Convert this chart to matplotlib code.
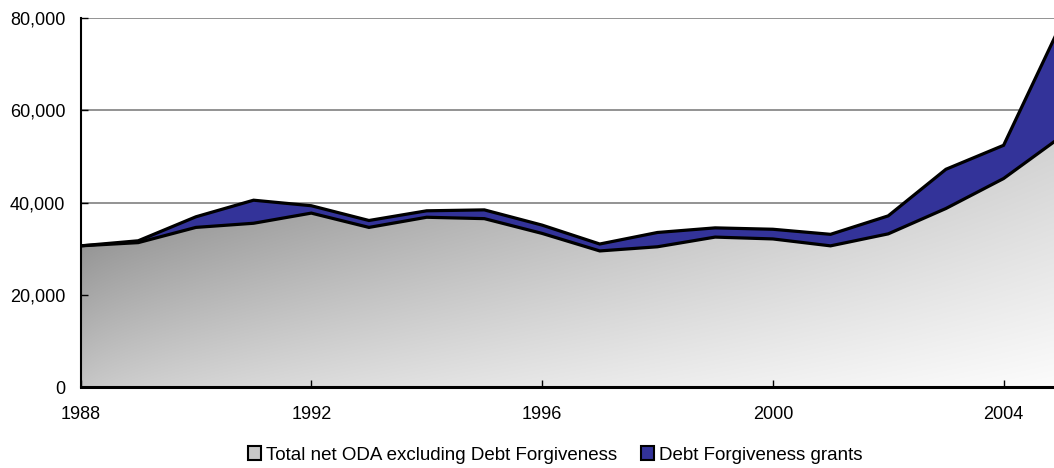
import numpy as np
import matplotlib
matplotlib.use("Agg")
import matplotlib.pyplot as plt
from matplotlib.patches import Patch
from matplotlib.ticker import FuncFormatter

years = [1988, 1989, 1990, 1991, 1992, 1993, 1994, 1995, 1996,
         1997, 1998, 1999, 2000, 2001, 2002, 2003, 2004, 2005]
oda_excl_df = [30600, 31300, 34600, 35500, 37700, 34600, 36800, 36500, 33300,
               29500, 30400, 32500, 32100, 30600, 33200, 38700, 45200, 54300]
debt_forgiveness = [0, 400, 2300, 5000, 1600, 1500, 1400, 1900, 1800,
                    1500, 3100, 2000, 2100, 2500, 3900, 8500, 7200, 24500]
x_ticks = [1988, 1992, 1996, 2000, 2004]
y_ticks = [0, 20000, 40000, 60000, 80000]
legend_labels = ["Total net ODA excluding Debt Forgiveness", "Debt Forgiveness grants"]

x = np.array(years, dtype=float)
lower = np.array(oda_excl_df, dtype=float)
upper = lower + np.array(debt_forgiveness, dtype=float)

W, H = 1054, 468
fig = plt.figure(figsize=(W / 100, H / 100), dpi=100)
plt.rcParams['font.family'] = ['Liberation Sans', 'DejaVu Sans']

left_px, right_px, top_px, bot_px = 80.5, 1054, 18, 387
ax = fig.add_axes([left_px / W, (H - bot_px) / H, (right_px - left_px) / W, (bot_px - top_px) / H])
px_per_year = (1003.6 - 80.5) / 16
ax.set_xlim(1988, 1988 + (right_px - left_px) / px_per_year)
ax.set_ylim(0, 80000)

# gridlines
for yv in y_ticks[1:]:
    ax.axhline(yv, color='#808080', lw=1.2, zorder=0.5)

# gradient fill for base series
base = ax.fill_between(x, 0, lower, facecolor='none', edgecolor='none', zorder=1)
nu, nv = 400, 200
u = np.linspace(0, 1, nu)[None, :]
v = np.linspace(0, 1, nv)[:, None]  # 0 at top
top_row = 111 + 99 * u ** 0.8
bot_row = 196 + 56 * u ** 0.6
val = (top_row + (bot_row - top_row) * v) / 255.0
val = np.clip(val, 0, 1)
img = np.dstack([val, val, val])
im = ax.imshow(img, extent=[x.min(), x.max(), 0, lower.max()], origin='upper',
               aspect='auto', interpolation='bilinear', zorder=1)
im.set_clip_path(base.get_paths()[0], transform=ax.transData)

# debt forgiveness band
ax.fill_between(x, lower, upper, facecolor='#333399', edgecolor='none', zorder=2)
ax.plot(x, upper, color='black', lw=2.3, zorder=3, solid_joinstyle='miter')
ax.plot(x, lower, color='black', lw=2.3, zorder=3, solid_joinstyle='miter')

# spines
for s in ['top', 'right']:
    ax.spines[s].set_visible(False)
ax.spines['left'].set_color('black')
ax.spines['left'].set_linewidth(1.5)
ax.spines['bottom'].set_color('black')
ax.spines['bottom'].set_linewidth(2.2)
ax.spines['left'].set_zorder(4)
ax.spines['bottom'].set_zorder(4)

ax.set_xticks(x_ticks)
ax.set_xticklabels([str(t) for t in x_ticks])
ax.set_yticks(y_ticks)
ax.yaxis.set_major_formatter(FuncFormatter(lambda v, p: f"{int(v):,}"))
ax.tick_params(axis='y', direction='in', length=5, width=1, pad=11, labelsize=13, colors='black')
ax.tick_params(axis='x', direction='in', length=5, width=1, pad=13.5, labelsize=13, colors='black')

handles = [Patch(facecolor='#c8c8c8', edgecolor='black', lw=1.5),
           Patch(facecolor='#333399', edgecolor='black', lw=1.5)]
fig.legend(handles, legend_labels, loc='center', bbox_to_anchor=(555 / W, (H - 455) / H),
           ncol=2, frameon=False, fontsize=13.5, handlelength=0.7, handleheight=0.7,
           handletextpad=0.25, columnspacing=1.3)

fig.savefig('out.png', dpi=100)
